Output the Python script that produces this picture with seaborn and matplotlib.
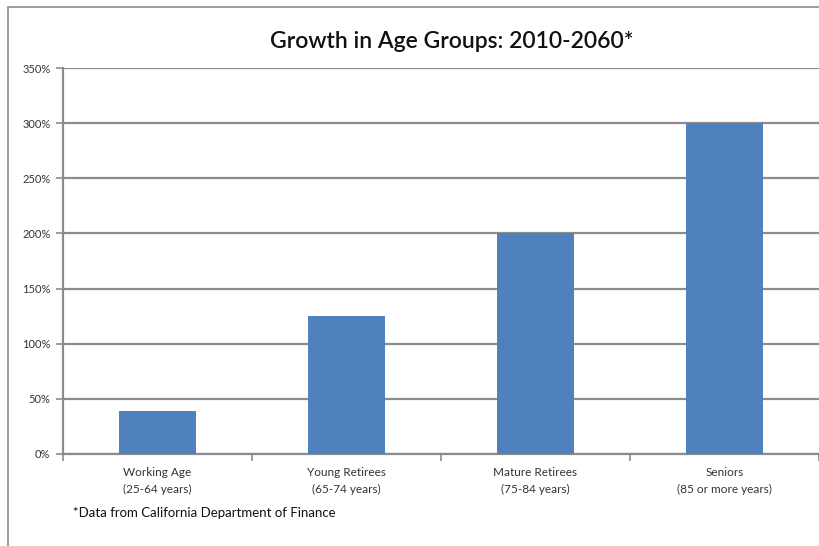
import matplotlib
matplotlib.use('Agg')
import matplotlib.pyplot as plt
import seaborn as sns
import pandas as pd
from matplotlib.patches import Rectangle
from matplotlib.ticker import FuncFormatter, FixedLocator

# Data
groups = ['Working Age\n(25-64 years)', 'Young Retirees\n(65-74 years)',
          'Mature Retirees\n(75-84 years)', 'Seniors\n(85 or more years)']
growth = [39, 125, 200, 300]
y_ticks = [0, 50, 100, 150, 200, 250, 300, 350]

df = pd.DataFrame({'group': groups, 'growth': growth})

sns.set_style('white')
plt.rcParams['font.family'] = ['Lato', 'DejaVu Sans']

fig = plt.figure(figsize=(8.2, 5.46), dpi=100)
ax = fig.add_axes([63 / 820, 92 / 546, 756 / 820, 386 / 546])

sns.barplot(data=df, x='group', y='growth', color='#4F81BD', width=0.41,
            saturation=1, linewidth=0, ax=ax, zorder=3)

ax.set_ylim(0, 350)
ax.set_xlim(-0.5, 3.5)
ax.yaxis.set_major_locator(FixedLocator(y_ticks))
ax.yaxis.set_major_formatter(FuncFormatter(lambda v, p: f'{int(v)}%'))
ax.grid(axis='y', color='#8c8c8c', linewidth=1.6, zorder=0)
ax.set_axisbelow(True)

for s in ['top', 'right']:
    ax.spines[s].set_visible(False)
for s in ['left', 'bottom']:
    ax.spines[s].set_color('#8c8c8c')
    ax.spines[s].set_linewidth(1.6)

ax.tick_params(axis='y', length=5, width=1.2, color='#8c8c8c', labelsize=8,
               labelcolor='#333333', pad=4, left=True)
ax.tick_params(axis='x', which='major', length=0, labelsize=8.5,
               labelcolor='#333333', pad=9)
for lbl in ax.get_xticklabels():
    lbl.set_linespacing(1.7)
ax.set_xticks([-0.5, 0.5, 1.5, 2.5, 3.5], minor=True)
ax.tick_params(axis='x', which='minor', length=5, width=1.2, color='#8c8c8c',
               bottom=True)
ax.set_xlabel('')
ax.set_ylabel('')

fig.text(452 / 820, 1 - 41 / 546, 'Growth in Age Groups: 2010-2060*',
         ha='center', va='center', fontsize=16.5, fontweight='semibold',
         color='#111111')
fig.text(73 / 820, 1 - 513 / 546, '*Data from California Department of Finance',
         ha='left', va='center', fontsize=9.5, color='#111111')

# outer chart frame (cropped on the right and bottom)
fig.patches.append(Rectangle((8 / 820, -0.1), 1.2, 1 - 7 / 546 + 0.1,
                             transform=fig.transFigure, fill=False,
                             edgecolor='#8c8c8c', linewidth=1.2))

fig.savefig('out.png', dpi=100)
